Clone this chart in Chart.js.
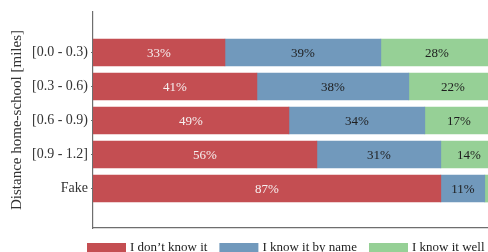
<!DOCTYPE html>
<html>
<head>
<meta charset="utf-8">
<script src="https://cdn.jsdelivr.net/npm/chart.js@4"></script>
<style>
  html, body { margin: 0; padding: 0; background: #fff; overflow: hidden; }
  #wrap { width: 488px; height: 252px; }
</style>
</head>
<body>
<div id="wrap"><canvas id="myChart" width="488" height="252"></canvas></div>
<script>
var categories = ["[0.0 - 0.3)", "[0.3 - 0.6)", "[0.6 - 0.9)", "[0.9 - 1.2]", "Fake"];
var dontKnow = [33, 41, 49, 56, 87];
var byName = [39, 38, 34, 31, 11];
var knowWell = [28, 22, 17, 14, 2];
var seriesNames = ["I don\u2019t know it", "I know it by name", "I know it well"];
var seriesColors = ["#c44e52", "#7199bc", "#96d096"];
var labelColors = ["#f6f0f0", "#1e1e1e", "#1e1e1e"];

var serif = "'Liberation Serif', 'DejaVu Serif', serif";

function toPoints(values) {
  return values.map((v, i) => ({ x: v, y: i }));
}

// percent text in the middle of each bar
var barLabels = {
  id: "barLabels",
  afterDatasetsDraw(chart) {
    var c = chart.ctx;
    c.save();
    c.font = "13px " + serif;
    c.textAlign = "center";
    c.textBaseline = "middle";
    chart.data.datasets.forEach((ds, d) => {
      chart.getDatasetMeta(d).data.forEach((el, i) => {
        if (Math.abs(el.x - el.base) < 22) return;
        c.fillStyle = labelColors[d];
        c.fillText(ds.data[i].x + "%", (el.x + el.base) / 2, el.y + 1);
      });
    });
    c.restore();
  },
};

// legend under the plot, boxes + text
var bottomLegend = {
  id: "bottomLegend",
  afterDraw(chart) {
    var c = chart.ctx;
    c.save();
    c.font = "13px " + serif;
    c.textBaseline = "alphabetic";
    var x = chart.chartArea.left - 6;
    chart.data.datasets.forEach((ds) => {
      c.fillStyle = ds.backgroundColor;
      c.fillRect(x, 243, 39, 12);
      x += 43;
      c.fillStyle = "#222";
      c.fillText(ds.label, x, 250.5);
      x += c.measureText(ds.label).width + 12;
    });
    c.restore();
  },
};

window.addEventListener("load", function () {
  var ctx = document.getElementById("myChart");
  new Chart(ctx, {
    type: "bar",
    data: {
      datasets: [
        { label: seriesNames[0], data: toPoints(dontKnow), backgroundColor: seriesColors[0] },
        { label: seriesNames[1], data: toPoints(byName), backgroundColor: seriesColors[1] },
        { label: seriesNames[2], data: toPoints(knowWell), backgroundColor: seriesColors[2] },
      ],
    },
    options: {
      indexAxis: "y",
      responsive: false,
      animation: false,
      barThickness: 27,
      layout: { padding: { top: 12, right: 0, bottom: 24, left: 0 } },
      plugins: { legend: { display: false }, tooltip: { enabled: false } },
      scales: {
        x: {
          type: "linear",
          stacked: true,
          min: 0,
          max: 98.8,
          ticks: { display: false },
          grid: { display: false, drawTicks: false },
          border: { display: true, color: "#6e6e6e", width: 1.2 },
          afterFit: (s) => { s.height = 0; },
        },
        y: {
          type: "linear",
          stacked: true,
          reverse: true,
          offset: false,
          min: -1.19,
          max: 5.16,
          afterBuildTicks: (s) => { s.ticks = categories.map((c, i) => ({ value: i })); },
          ticks: {
            callback: (v) => categories[v],
            font: { family: serif, size: 14 },
            color: "#333",
            padding: 3,
          },
          grid: { display: true, offset: false, drawOnChartArea: false, tickLength: 2, color: "#6e6e6e" },
          border: { display: true, color: "#6e6e6e", width: 1.2 },
          title: {
            display: true,
            text: "Distance home-school [miles]",
            font: { family: serif, size: 15 },
            color: "#333",
            padding: { top: 8, bottom: 0 },
          },
          afterFit: (s) => { s.width = 93; },
        },
      },
    },
    plugins: [barLabels, bottomLegend],
  });
});
</script>
</body>
</html>
